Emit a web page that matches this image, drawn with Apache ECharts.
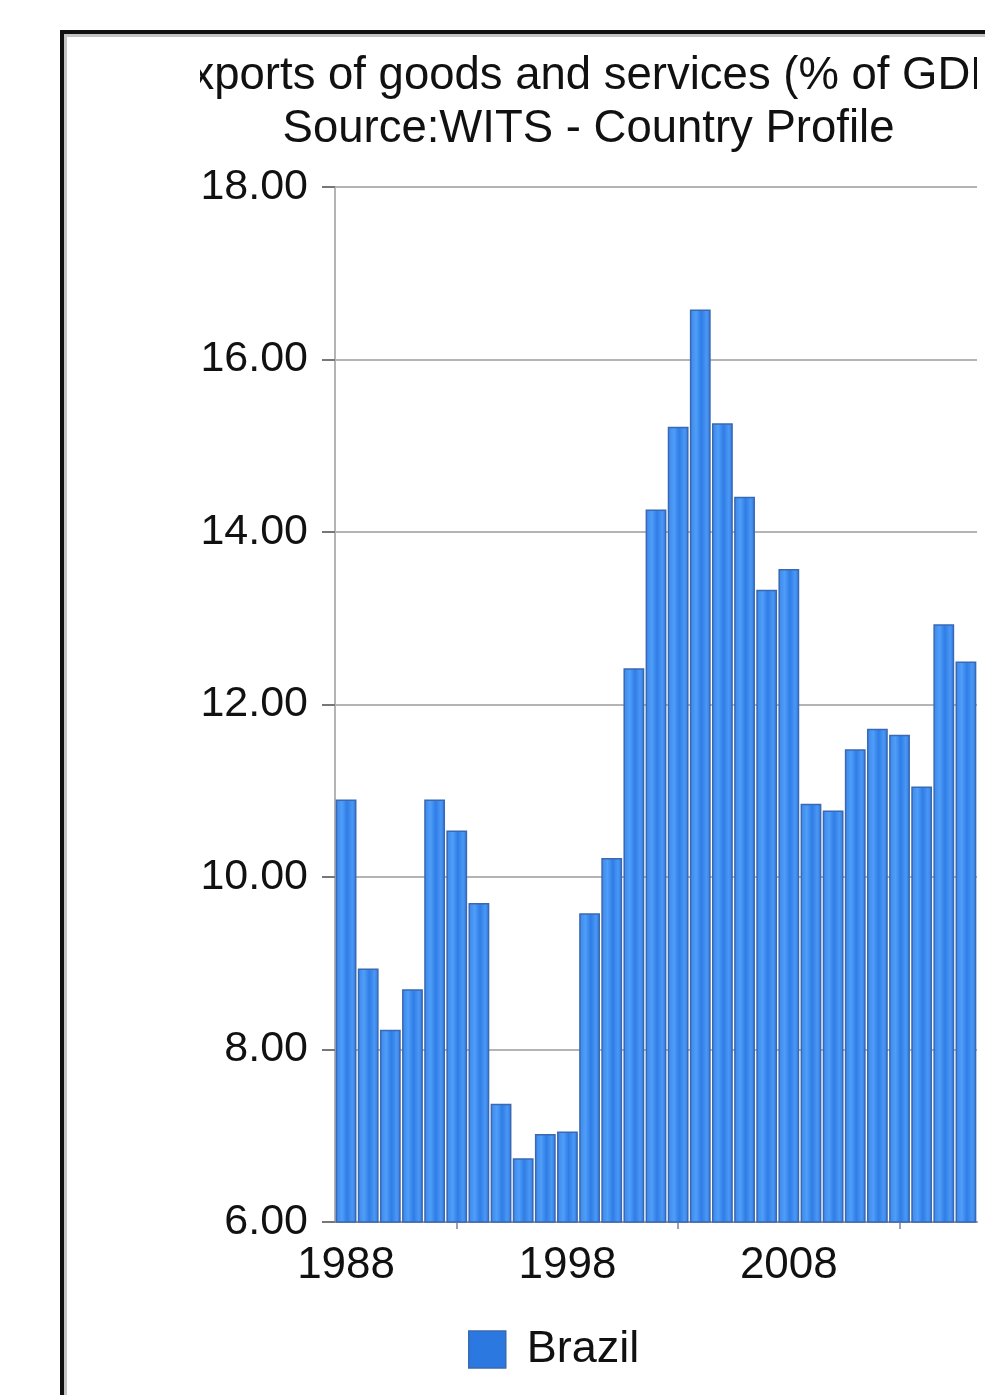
<!DOCTYPE html>
<html>
<head>
<meta charset="utf-8">
<script src="https://cdn.jsdelivr.net/npm/echarts@6/dist/echarts.min.js"></script>
<style>
  html, body { margin: 0; padding: 0; background: #fff; overflow: hidden; width: 985px; height: 1395px; }
  #frame { position: absolute; left: 60px; top: 30px; width: 1000px; height: 1420px;
           border: 4px solid #111; box-shadow: inset 3px 3px 0 #c4c4c4; box-sizing: border-box; }
  #chart { position: absolute; left: 0; top: 0; width: 985px; height: 1395px; }
  #titlebox { position: absolute; left: 200px; top: 40px; width: 777px; height: 112px; }
</style>
</head>
<body>
<div id="frame"></div>
<div id="chart"></div>
<div id="titlebox"></div>
<script>
const titleText = 'Exports of goods and services (% of GDP)';
const subtitleText = 'Source:WITS - Country Profile';
const seriesName = 'Brazil';
const years = ['1988','1989','1990','1991','1992','1993','1994','1995','1996','1997',
               '1998','1999','2000','2001','2002','2003','2004','2005','2006','2007',
               '2008','2009','2010','2011','2012','2013','2014','2015','2016'];
const values = [10.90, 8.94, 8.23, 8.70, 10.90, 10.54, 9.70, 7.37, 6.74, 7.02,
                7.05, 9.58, 10.22, 12.42, 14.26, 15.22, 16.58, 15.26, 14.41, 13.33,
                13.57, 10.85, 10.77, 11.48, 11.72, 11.65, 11.05, 12.93, 12.50];
const yMin = 6, yMax = 18, yStep = 2;

const FONT = '"Liberation Sans", Arial, "DejaVu Sans", sans-serif';

const titleChart = echarts.init(document.getElementById('titlebox'));
titleChart.setOption({
  animation: false,
  title: {
    text: titleText,
    subtext: subtitleText,
    left: 'center',
    top: 13,
    padding: 0,
    itemGap: 7,
    textStyle: { fontFamily: FONT, fontSize: 45.5, fontWeight: 'normal', color: '#111', lineHeight: 46 },
    subtextStyle: { fontFamily: FONT, fontSize: 45.5, color: '#111', lineHeight: 46 }
  }
});

const chart = echarts.init(document.getElementById('chart'));
chart.setOption({
  animation: false,
  textStyle: { fontFamily: FONT },
  grid: { left: 335, right: 8, top: 187, bottom: 173, containLabel: false },
  legend: {
    data: [seriesName],
    left: 463, top: 1322,
    icon: 'rect', itemWidth: 37, itemHeight: 37,
    itemStyle: { color: '#2a78e0', borderColor: '#3b68b2', borderWidth: 1.5 },
    textStyle: { fontFamily: FONT, fontSize: 45, color: '#111', padding: [0, 0, 0, 16] }
  },
  xAxis: {
    type: 'category',
    data: years,
    axisLine: { show: true, lineStyle: { color: '#9a9a9a', width: 2 } },
    axisTick: { show: true, alignWithLabel: true, length: 7,
                interval: function (i) { return i % 10 === 5; },
                lineStyle: { color: '#9aa0b8', width: 2 } },
    axisLabel: { interval: function (i) { return i % 10 === 0; },
                 fontFamily: FONT, fontSize: 44, color: '#111', margin: 22 },
    splitLine: { show: false }
  },
  yAxis: {
    type: 'value',
    min: yMin, max: yMax, interval: yStep,
    axisLine: { show: true, lineStyle: { color: '#b4b4b4', width: 2 } },
    axisTick: { show: true, length: 13, lineStyle: { color: '#777', width: 2 } },
    axisLabel: { fontFamily: FONT, fontSize: 43, color: '#111', margin: 27,
                 formatter: function (v) { return v.toFixed(2); } },
    splitLine: { show: true, lineStyle: { color: '#b4b4b4', width: 2 } }
  },
  series: [{
    name: seriesName,
    type: 'bar',
    data: values,
    barCategoryGap: '6%',
    itemStyle: {
      color: new echarts.graphic.LinearGradient(0, 0, 1, 0, [
        { offset: 0, color: '#3a86ea' },
        { offset: 0.3, color: '#4f9ef8' },
        { offset: 0.55, color: '#2f7de6' },
        { offset: 0.8, color: '#4a97f4' },
        { offset: 1, color: '#2f7ae2' }
      ]),
      borderColor: '#3b68b2',
      borderWidth: 1.5
    }
  }]
});
</script>
</body>
</html>
